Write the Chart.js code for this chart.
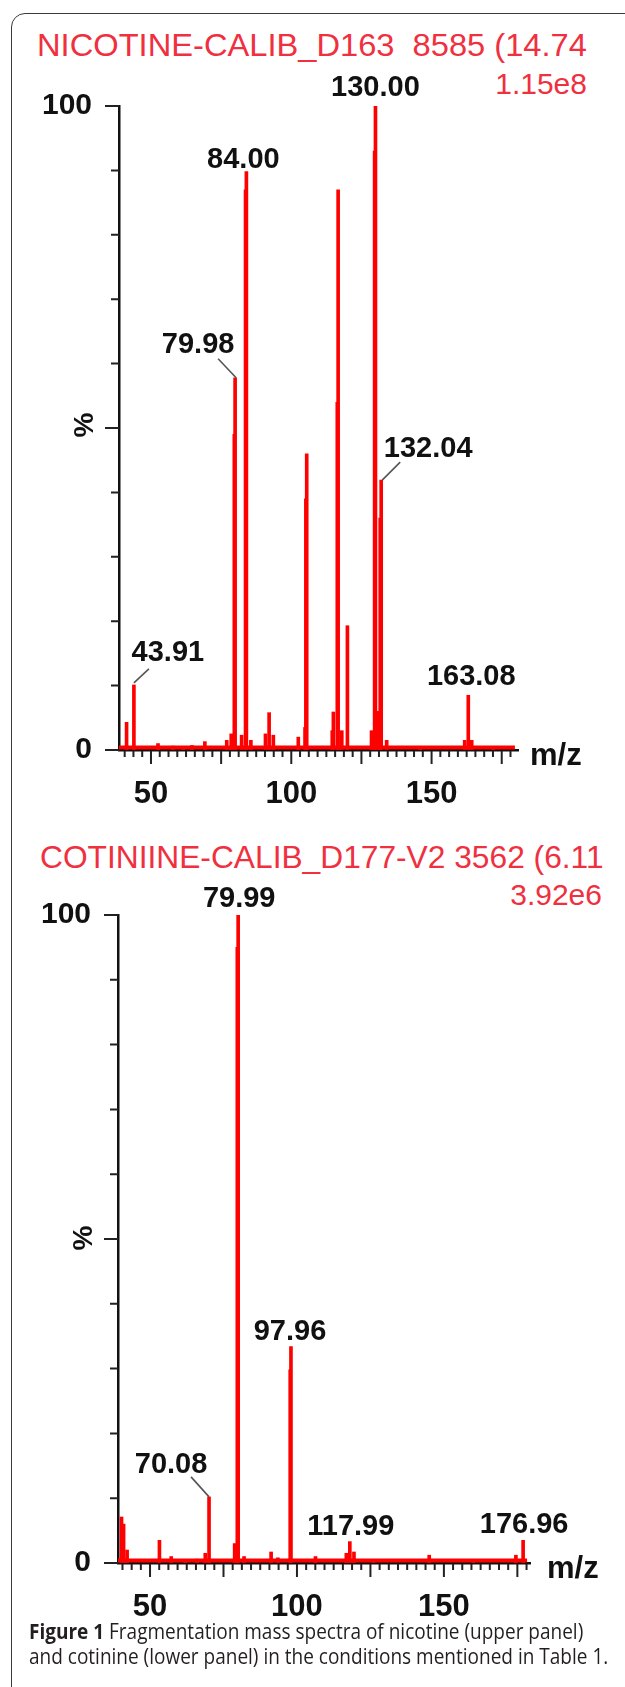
<!DOCTYPE html>
<html>
<head>
<meta charset="utf-8">
<script src="https://cdn.jsdelivr.net/npm/chart.js@4.4.1/dist/chart.umd.min.js"></script>
<style>
  html, body { margin: 0; padding: 0; background: #fff; }
  body { width: 625px; height: 1687px; position: relative; overflow: hidden; font-family: "Liberation Sans", Arial, sans-serif; }
  .frame { position: absolute; left: 11px; top: 13px; width: 700px; height: 1800px; border: 1.6px solid #3a3a3a; border-radius: 14px; }
  canvas { position: absolute; left: 0; }
  .title { position: absolute; white-space: pre; font-size: 32px; line-height: 32px; color: #f0303f; transform-origin: left top; }
  .scale { position: absolute; white-space: pre; font-size: 30px; line-height: 30px; color: #f0303f; }
  .cap { position: absolute; left: 29px; white-space: pre; font-family: "Open Sans", sans-serif; font-size: 21.5px; line-height: 25px; color: #231f20; transform-origin: left top; }
  .cap b { font-weight: 700; }
</style>
</head>
<body>
<div class="frame"></div>

<div class="title" data-w="550" style="left:37px; top:28.9px;">NICOTINE-CALIB_D163  8585 (14.74</div>
<div class="scale" style="right:38px; top:68.6px;">1.15e8</div>
<canvas id="upper" width="625" height="820" style="top:0px"></canvas>

<div class="title" data-w="564" style="left:40px; top:840.9px;">COTINIINE-CALIB_D177-V2 3562 (6.11</div>
<div class="scale" style="right:23px; top:879.6px;">3.92e6</div>
<canvas id="lower" width="625" height="810" style="top:820px"></canvas>

<div class="cap" data-w="554" style="top:1618px;"><b>Figure 1</b> Fragmentation mass spectra of nicotine (upper panel)</div>
<div class="cap" data-w="579" style="top:1643px;">and cotinine (lower panel) in the conditions mentioned in Table 1.</div>

<script>
"use strict";

// axis ticks
const xTickLabels = [50, 100, 150];
const xMajorTicks = [50, 75, 100, 125, 150, 175];
const xMinorStep = 3.125;
const yTickLabels = [0, 100];
const yMajorTicks = [0, 50, 100];

// upper panel - nicotine
const nicotineMz = [41.3, 43.91, 52.5, 57.8, 61.5, 64.6, 69.2, 77.0, 78.6, 79.7, 79.98, 82.3, 83.7, 84.00, 85.6,
  90.8, 92.1, 93.6, 102.5, 104.9, 105.2, 105.5, 114.6, 115.0, 116.4, 116.7, 118.0, 120.0, 128.6, 129.7, 130.00,
  131.0, 131.7, 132.04, 134.0, 146.0, 161.8, 163.08, 164.3, 172.0];
const nicotineIntensity = [4.3, 10.1, 1.0, 0.6, 0.5, 0.7, 1.3, 1.5, 2.5, 49, 57.8, 2.3, 87, 89.8, 1.5,
  2.5, 5.8, 2.3, 2.0, 3.5, 39, 46, 3.0, 5.9, 54, 87, 3.0, 19.3, 3.0, 93, 100,
  6.0, 36, 41.9, 1.5, 0.5, 1.5, 8.5, 1.5, 0.5];
const nicotineBaseMz = [38.6, 179.7];
const nicotineBaseIntensity = [0.4, 0.4];
const nicotineLabels = [43.91, 79.98, 84.00, 130.00, 132.04, 163.08];

// lower panel - cotinine
const cotinineMz = [40.3, 41.0, 42.2, 53.2, 57.2, 62.0, 66.0, 68.8, 70.08, 78.8, 79.7, 79.99, 82.0,
  91.2, 93.5, 97.7, 97.96, 106.3, 116.8, 117.99, 119.4, 126.0, 145.0, 160.0, 174.5, 176.96];
const cotinineIntensity = [7.1, 6.0, 2.0, 3.5, 1.0, 0.5, 0.6, 1.5, 10.2, 3.0, 95, 100, 1.0,
  1.7, 0.8, 29.8, 33.4, 1.0, 1.5, 3.3, 1.7, 0.5, 1.2, 0.5, 1.2, 3.5];
const cotinineBaseMz = [39.1, 178.3];
const cotinineBaseIntensity = [0.4, 0.4];
const cotinineLabels = [70.08, 79.99, 97.96, 117.99, 176.96];

const fontFamily = '"Liberation Sans", Arial, sans-serif';
Chart.defaults.font.family = fontFamily;
Chart.defaults.color = "#111";

function xTickValues(min, max) {
  const vals = [];
  for (let v = 50; v >= min; v -= xMinorStep) vals.unshift(v);
  for (let v = 50 + xMinorStep; v <= max; v += xMinorStep) vals.push(v);
  return vals;
}

// ticks of two lengths, % sign, m/z and peak labels
const spectrumMarks = {
  id: "spectrumMarks",
  afterDraw(chart, args, o) {
    const ctx = chart.ctx;
    const a = chart.chartArea;
    const xs = chart.scales.x;
    const ys = chart.scales.y;
    ctx.save();
    ctx.strokeStyle = "#222";
    ctx.lineWidth = 2;
    ctx.beginPath();
    ys.ticks.forEach(t => {
      const y = ys.getPixelForValue(t.value);
      const len = yMajorTicks.includes(t.value) ? 14 : 8;
      ctx.moveTo(a.left - len, y);
      ctx.lineTo(a.left, y);
    });
    xs.ticks.forEach(t => {
      const x = xs.getPixelForValue(t.value);
      const len = xMajorTicks.includes(t.value) ? 13 : 6;
      ctx.moveTo(x, a.bottom + 1);
      ctx.lineTo(x, a.bottom + 1 + len);
    });
    ctx.stroke();

    ctx.fillStyle = "#111";
    ctx.save();
    ctx.font = "bold 28px " + fontFamily;
    ctx.translate(a.left - 34, ys.getPixelForValue(50) + o.pctDy);
    ctx.rotate(-Math.PI / 2);
    ctx.textAlign = "center";
    ctx.textBaseline = "middle";
    ctx.fillText("%", 0, 0);
    ctx.restore();

    ctx.font = "bold 31px " + fontFamily;
    ctx.textAlign = "left";
    ctx.textBaseline = "alphabetic";
    ctx.fillText("m/z", a.right + o.mzGap, a.bottom + 15);

    ctx.font = "bold 29px " + fontFamily;
    ctx.textAlign = "center";
    o.labels.forEach(m => {
      const i = o.mz.indexOf(m);
      const px = xs.getPixelForValue(m);
      const py = ys.getPixelForValue(o.intensity[i]);
      const s = o.offsets[m.toFixed(2)] || { dx: 0, dy: -8 };
      if (s.leader) {
        ctx.strokeStyle = "#555";
        ctx.lineWidth = 1.6;
        ctx.beginPath();
        ctx.moveTo(px + s.leader[0], py + s.leader[1]);
        ctx.lineTo(px + s.leader[2], py + s.leader[3]);
        ctx.stroke();
      }
      ctx.fillText(m.toFixed(2), px + s.dx, py + s.dy);
    });
    ctx.restore();
  }
};

function makeSpectrum(id, p) {
  const xTicks = xTickValues(p.min, p.max);
  return new Chart(document.getElementById(id), {
    type: "bar",
    data: {
      datasets: [
        {
          type: "line",
          data: p.baseMz.map((m, i) => ({ x: m, y: p.baseIntensity[i] })),
          borderColor: "#ff0000",
          borderWidth: 4,
          pointRadius: 0
        },
        {
          type: "bar",
          data: p.mz.map((m, i) => ({ x: m, y: p.intensity[i] })),
          backgroundColor: "#ff0000",
          barThickness: 3
        }
      ]
    },
    options: {
      responsive: false,
      animation: false,
      events: [],
      layout: { padding: p.padding },
      plugins: {
        legend: { display: false },
        tooltip: { enabled: false },
        spectrumMarks: {
          labels: p.labels, mz: p.mz, intensity: p.intensity,
          offsets: p.offsets, mzGap: p.mzGap, pctDy: p.pctDy
        }
      },
      scales: {
        x: {
          type: "linear",
          min: p.min,
          max: p.max,
          offset: false,
          afterBuildTicks: s => { s.ticks = xTicks.map(v => ({ value: v })); },
          afterFit: s => { s.height = 60; },
          grid: { offset: false, drawOnChartArea: false, drawTicks: false },
          border: { color: "#111", width: 2.5 },
          ticks: {
            autoSkip: false, maxRotation: 0, padding: 26, color: "#111",
            font: { size: 31, weight: "bold" },
            callback: v => xTickLabels.includes(v) ? String(v) : ""
          }
        },
        y: {
          min: 0,
          max: 100,
          afterBuildTicks: s => {
            const t = [];
            for (let v = 0; v <= 100; v += 10) t.push({ value: v });
            s.ticks = t;
          },
          afterFit: s => { s.width = p.yWidth; },
          grid: { drawOnChartArea: false, drawTicks: false },
          border: { color: "#111", width: 2.5 },
          ticks: {
            autoSkip: false, padding: 27, color: "#111",
            font: { size: 30, weight: "bold" },
            callback: v => yTickLabels.includes(v) ? String(v) : ""
          }
        }
      }
    },
    plugins: [spectrumMarks]
  });
}

makeSpectrum("upper", {
  mz: nicotineMz, intensity: nicotineIntensity,
  baseMz: nicotineBaseMz, baseIntensity: nicotineBaseIntensity,
  labels: nicotineLabels,
  min: 38.6, max: 180.8,
  padding: { left: 0, top: 106, right: 107, bottom: 10 },
  yWidth: 119, mzGap: 12, pctDy: -3,
  offsets: {
    "43.91": { dx: 34, dy: -24, leader: [0, -2, 15, -16] },
    "79.98": { dx: -37, dy: -25, leader: [1, 0, -17, -19] },
    "84.00": { dx: -3, dy: -4 },
    "130.00": { dx: 0, dy: -10 },
    "132.04": { dx: 47, dy: -23, leader: [1, 0, 19, -18] },
    "163.08": { dx: 3, dy: -10 }
  }
});

makeSpectrum("lower", {
  mz: cotinineMz, intensity: cotinineIntensity,
  baseMz: cotinineBaseMz, baseIntensity: cotinineBaseIntensity,
  labels: cotinineLabels,
  min: 39.1, max: 179.3,
  padding: { left: 0, top: 95, right: 95, bottom: 7 },
  yWidth: 118, mzGap: 17, pctDy: -1,
  offsets: {
    "70.08": { dx: -38, dy: -24, leader: [0, 0, -18, -20] },
    "79.99": { dx: 1, dy: -8 },
    "97.96": { dx: -1, dy: -7 },
    "117.99": { dx: 1, dy: -7 },
    "176.96": { dx: 1, dy: -7 }
  }
});

function fitTexts() {
  document.querySelectorAll("[data-w]").forEach(el => {
    const w = Number(el.dataset.w);
    el.style.transform = "scaleX(" + (w / el.offsetWidth) + ")";
  });
}
fitTexts();
if (document.fonts) document.fonts.ready.then(fitTexts);
</script>
</body>
</html>
